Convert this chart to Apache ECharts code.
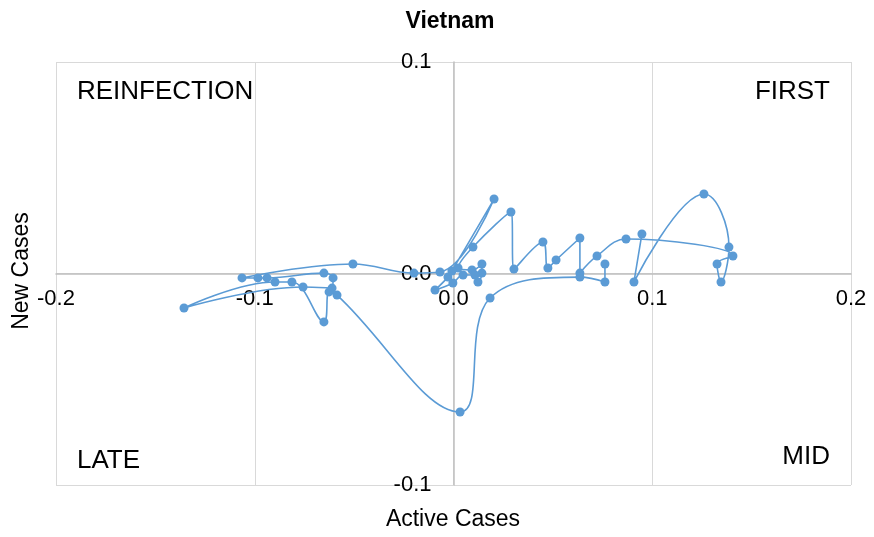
<!DOCTYPE html>
<html>
<head>
<meta charset="utf-8">
<style>
  html, body { margin: 0; padding: 0; background: #fff; }
  #chart { width: 874px; height: 537px; }
</style>
<script src="https://cdn.jsdelivr.net/npm/echarts@6/dist/echarts.min.js"></script>
</head>
<body>
<div id="chart"></div>
<script>
// path order
const activeCases = [
  0.0948, 0.0908, 0.1260, 0.1386, 0.1346, 0.1326, 0.1406, 0.0868, 0.0722, 0.0636,
  0.0636, 0.0516, 0.0475, 0.0450, 0.0304, 0.0289, 0.0098, 0.0023, 0.0093, 0.0143,
  0.0143, 0.0123, 0.0108, 0.0048, -0.0003, -0.0093, -0.0028, -0.0008, 0.0204, -0.0068,
  -0.0199, -0.0506, -0.1064, -0.0984, -0.0938, -0.0652, -0.0606, -0.0611, -0.0757, -0.1356,
  -0.0898, -0.0813, -0.0652, -0.0626, -0.0586, 0.0033, 0.0184, 0.0636, 0.0762, 0.0762,
];
const newCases = [
  0.0187, -0.0040, 0.0376, 0.0125, -0.0040, 0.0045, 0.0083, 0.0163, 0.0083, 0.0002,
  0.0168, 0.0064, 0.0026, 0.0149, 0.0021, 0.0291, 0.0125, 0.0026, 0.0017, 0.0045,
  0.0002, -0.0040, -0.0007, -0.0007, -0.0045, -0.0078, -0.0017, 0.0012, 0.0352, 0.0007,
  0.0002, 0.0045, -0.0021, -0.0021, -0.0021, 0.0002, -0.0021, -0.0069, -0.0064, -0.0163,
  -0.0040, -0.0040, -0.0229, -0.0087, -0.0102, -0.0655, -0.0116, -0.0017, -0.0040, 0.0045,
];
const quadrantNames = ['REINFECTION', 'FIRST', 'LATE', 'MID'];

const seriesData = activeCases.map((x, i) => [x, newCases[i]]);

const FONT = 'Liberation Sans, Arial, sans-serif';
const gridLeft = 56;
const gridRight = 23;
const gridTop = 62;
const gridBottom = 52;
const plotW = 874 - gridLeft - gridRight;
const plotH = 537 - gridTop - gridBottom;

const chart = echarts.init(document.getElementById('chart'));

const quadStyle = (text, align) => ({
  text,
  align,
  verticalAlign: 'middle',
  fontFamily: FONT,
  fontSize: 26,
  fill: '#000',
});

const nameStyle = (text) => ({
  text,
  align: 'center',
  verticalAlign: 'middle',
  fontFamily: FONT,
  fontSize: 23,
  fill: '#000',
});

chart.setOption({
  animation: false,
  title: {
    text: 'Vietnam',
    left: 445,
    top: 5,
    textAlign: 'center',
    textStyle: {
      fontFamily: FONT,
      fontSize: 23,
      fontWeight: 'bold',
      color: '#000',
    },
  },
  grid: {
    left: gridLeft,
    right: gridRight,
    top: gridTop,
    bottom: gridBottom,
  },
  xAxis: {
    type: 'value',
    min: -0.2,
    max: 0.2,
    interval: 0.1,
    // axis sits on y = 0 (middle of the plot)
    offset: -plotH / 2,
    axisLine: { onZero: false, lineStyle: { color: '#bfbfbf', width: 1.5 } },
    axisTick: { show: false },
    axisLabel: {
      margin: 14,
      fontFamily: FONT,
      fontSize: 22,
      color: '#000',
      formatter: (v) => v.toFixed(1),
    },
    splitLine: { lineStyle: { color: '#d9d9d9', width: 1 } },
  },
  yAxis: {
    type: 'value',
    min: -0.1,
    max: 0.1,
    interval: 0.1,
    // axis sits on x = 0 (middle of the plot)
    offset: -plotW / 2,
    axisLine: { onZero: false, lineStyle: { color: '#bfbfbf', width: 1.5 } },
    axisTick: { show: false },
    axisLabel: {
      margin: 22,
      fontFamily: FONT,
      fontSize: 22,
      color: '#000',
      formatter: (v) => v.toFixed(1),
    },
    splitLine: { lineStyle: { color: '#d9d9d9', width: 1 } },
  },
  graphic: [
    { type: 'text', x: 77, y: 92, style: quadStyle(quadrantNames[0], 'left') },
    { type: 'text', x: 830, y: 92, style: quadStyle(quadrantNames[1], 'right') },
    { type: 'text', x: 77, y: 461, style: quadStyle(quadrantNames[2], 'left') },
    { type: 'text', x: 830, y: 457, style: quadStyle(quadrantNames[3], 'right') },
    { type: 'text', x: 453, y: 520, style: nameStyle('Active Cases') },
    { type: 'text', x: 22, y: 271, rotation: Math.PI / 2, style: nameStyle('New Cases') },
  ],
  series: [
    {
      type: 'line',
      data: seriesData,
      smooth: 0.4,
      symbol: 'circle',
      symbolSize: 9,
      itemStyle: { color: '#5b9bd5' },
      lineStyle: { color: '#5b9bd5', width: 1.6 },
    },
  ],
});
</script>
</body>
</html>
